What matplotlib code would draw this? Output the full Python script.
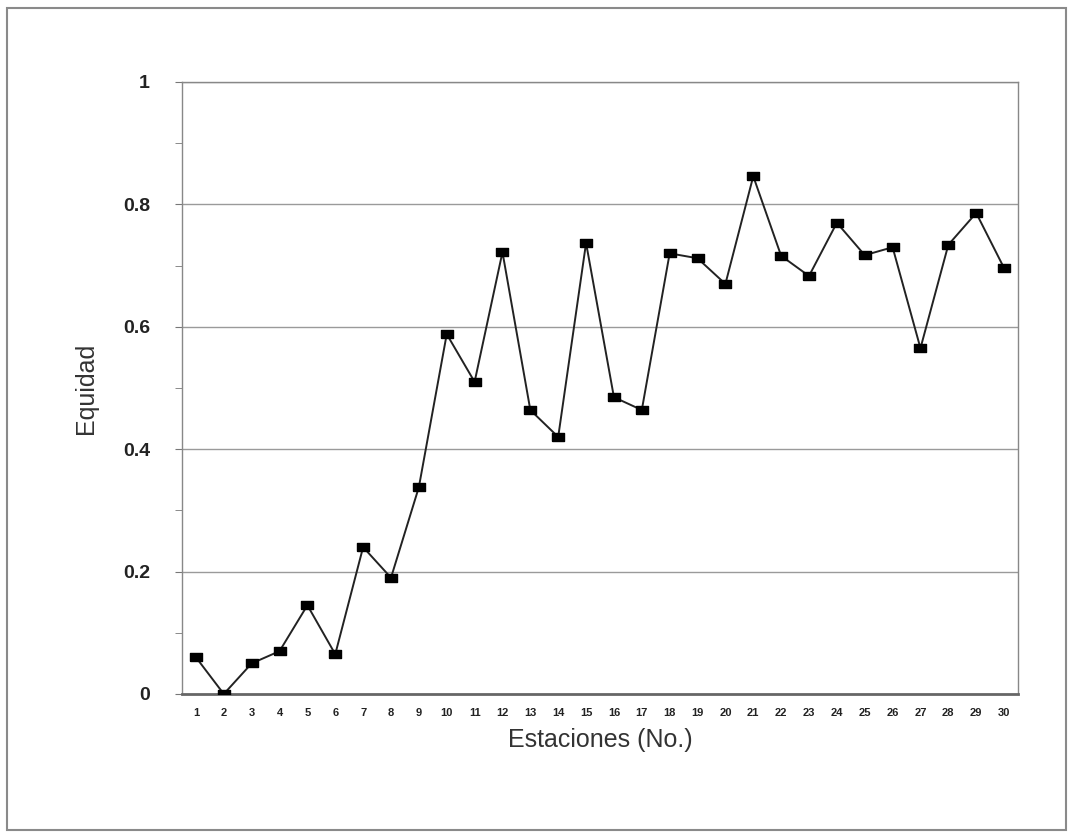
import matplotlib
matplotlib.use("Agg")
import matplotlib.pyplot as plt
from matplotlib.patches import Rectangle

plt.rcParams["font.family"] = ["Liberation Sans", "DejaVu Sans"]

stations = list(range(1, 31))
equidad = [0.06, 0.0, 0.05, 0.07, 0.145, 0.065, 0.24, 0.19, 0.338, 0.588,
           0.51, 0.722, 0.464, 0.42, 0.737, 0.485, 0.464, 0.72, 0.712, 0.67,
           0.846, 0.716, 0.683, 0.77, 0.717, 0.73, 0.565, 0.734, 0.786, 0.696]
yticks = [0, 0.2, 0.4, 0.6, 0.8, 1]
ytick_labels = ["0", "0.2", "0.4", "0.6", "0.8", "1"]

fig = plt.figure(figsize=(10.73, 8.36), dpi=100)
fig.patches.append(Rectangle((7/1073, 6/836), 1 - 14/1073, 1 - 14/836,
                             transform=fig.transFigure, fill=False,
                             edgecolor="#8a8a8a", linewidth=1.5))
ax = fig.add_axes([182/1073, 1 - 694/836, (1018 - 182)/1073, (694 - 82)/836])

rect_marker = [(-1.4, -1), (1.4, -1), (1.4, 1), (-1.4, 1), (-1.4, -1)]
ax.plot(stations, equidad, color="#222222", linewidth=1.4, marker=rect_marker,
        markersize=8, markerfacecolor="black", markeredgecolor="black",
        zorder=3)

ax.set_xlim(0.5, 30.5)
ax.set_ylim(0, 1)
ax.set_yticks(yticks)
ax.set_yticklabels(ytick_labels, fontsize=14, fontweight="bold", color="#222222")
ax.set_yticks([0.1, 0.3, 0.5, 0.7, 0.9], minor=True)
ax.set_xticks(stations)
ax.set_xticklabels([str(s) for s in stations], fontsize=8, fontweight="bold",
                   color="#222222")
ax.tick_params(axis="x", length=0, pad=10)
ax.tick_params(axis="y", which="both", direction="out", length=5, color="#777777",
               pad=18)

for yv in yticks[1:]:
    ax.axhline(yv, color="#9a9a9a", linewidth=1.0, zorder=1)

for s in ["left", "right", "top"]:
    ax.spines[s].set_color("#888888")
    ax.spines[s].set_linewidth(1.0)
ax.spines["bottom"].set_color("#666666")
ax.spines["bottom"].set_linewidth(2.0)

ax.set_xlabel("Estaciones (No.)", fontsize=18, color="#333333", labelpad=7)
ax.set_ylabel("Equidad", fontsize=18, color="#333333", labelpad=18)

fig.savefig("out.png", dpi=100)
